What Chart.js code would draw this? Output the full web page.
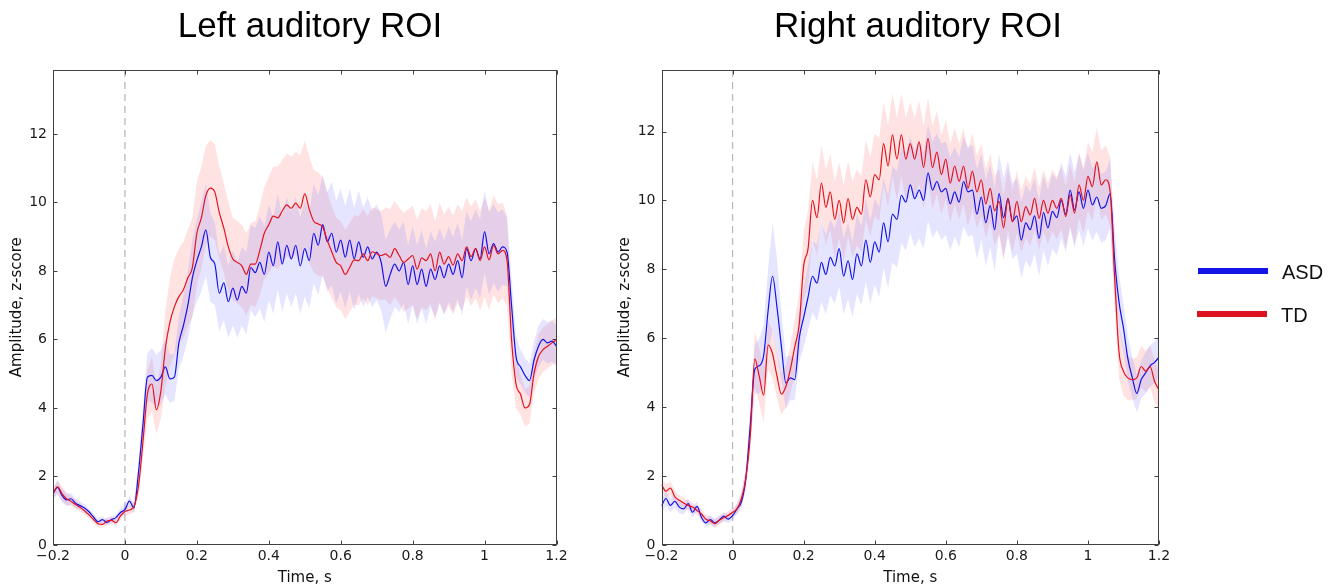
<!DOCTYPE html>
<html><head><meta charset="utf-8">
<script src="https://cdn.jsdelivr.net/npm/chart.js@4.4.1/dist/chart.umd.min.js"></script>
<style>
html,body{margin:0;padding:0;background:#fff;}
#wrap{position:relative;width:1338px;height:588px;overflow:hidden;background:#fff;}
canvas{position:absolute;top:0;}
.title{position:absolute;top:7px;font-family:"Liberation Sans",Arial,sans-serif;font-size:35px;line-height:35px;color:#000;white-space:nowrap;transform:translateX(-50%);}
.leg{position:absolute;font-family:"Liberation Sans",Arial,sans-serif;font-size:20px;line-height:20px;color:#111;}
.bar{position:absolute;height:6px;}
</style></head><body>
<div id="wrap">
<canvas id="c1" width="600" height="588" style="left:0"></canvas>
<canvas id="c2" width="600" height="588" style="left:608px"></canvas>
<div class="title" style="left:310px">Left auditory ROI</div>
<div class="title" style="left:918px">Right auditory ROI</div>
<div class="bar" style="left:1198px;top:268px;width:70px;background:#1414e6"></div>
<div class="leg" style="left:1282px;top:262px">ASD</div>
<div class="bar" style="left:1197px;top:311px;width:70px;background:#dc1420"></div>
<div class="leg" style="left:1281px;top:305px">TD</div>
</div>
<script>
const time = [
-0.2,-0.1875,-0.175,-0.1625,-0.15,-0.1375,-0.125,-0.1125,-0.1,-0.0875,
-0.075,-0.0625,-0.05,-0.0375,-0.025,-0.0125,0,0.0125,0.025,0.0375,
0.05,0.0625,0.075,0.0875,0.1,0.1125,0.125,0.1375,0.15,0.1625,
0.175,0.1875,0.2,0.2125,0.225,0.2375,0.25,0.2625,0.275,0.2875,
0.3,0.3125,0.325,0.3375,0.35,0.3625,0.375,0.3875,0.4,0.4125,
0.425,0.4375,0.45,0.4625,0.475,0.4875,0.5,0.5125,0.525,0.5375,
0.55,0.5625,0.575,0.5875,0.6,0.6125,0.625,0.6375,0.65,0.6625,
0.675,0.6875,0.7,0.7125,0.725,0.7375,0.75,0.7625,0.775,0.7875,
0.8,0.8125,0.825,0.8375,0.85,0.8625,0.875,0.8875,0.9,0.9125,
0.925,0.9375,0.95,0.9625,0.975,0.9875,1,1.0125,1.025,1.0375,
1.05,1.0625,1.075,1.0875,1.1,1.1125,1.125,1.1375,1.15,1.1625,
1.175,1.1875,1.2];

const xTicks = [-0.2,0,0.2,0.4,0.6,0.8,1,1.2];
const yTicks = [0,2,4,6,8,10,12];

const leftASD = [
1.5,1.68,1.45,1.32,1.35,1.22,1.15,1.08,0.97,0.82,
0.68,0.74,0.66,0.74,0.8,0.95,1.03,1.28,1.08,2.1,
3.5,4.9,4.95,4.8,4.9,5.2,4.85,4.9,5.9,6.4,
7.0,7.8,8.3,8.7,9.2,8.4,8.2,7.35,7.65,7.1,
7.5,7.15,7.55,7.35,8.1,7.95,8.25,7.9,8.55,8.15,
8.85,8.2,8.75,8.35,8.75,8.15,8.65,8.3,9.1,8.75,
9.35,8.85,9.1,8.55,8.9,8.4,8.9,8.35,8.85,8.4,
8.7,8.35,8.55,8.25,7.55,7.9,8.2,8.0,8.25,7.6,
8.15,7.6,8.05,7.55,8.05,7.75,8.15,7.8,8.2,7.9,
8.3,7.8,8.65,8.3,8.65,8.35,9.15,8.5,8.8,8.55,
8.7,8.55,7.0,5.5,5.2,4.95,4.8,5.4,5.8,6.0,
5.9,5.95,5.8];
const leftASDerr = [
0.15,0.2,0.2,0.18,0.16,0.14,0.12,0.1,0.1,0.1,
0.1,0.1,0.1,0.1,0.1,0.12,0.15,0.15,0.15,0.3,
0.5,0.7,0.8,0.75,0.8,0.8,0.7,0.7,0.75,0.9,
1.0,1.1,1.2,1.3,1.35,1.3,1.2,1.1,1.1,1.05,
1.1,1.1,1.15,1.2,1.25,1.3,1.35,1.4,1.4,1.4,
1.4,1.4,1.4,1.4,1.4,1.4,1.4,1.4,1.45,1.45,
1.45,1.45,1.5,1.5,1.5,1.5,1.5,1.5,1.5,1.45,
1.45,1.4,1.4,1.4,1.35,1.3,1.25,1.2,1.2,1.15,
1.15,1.15,1.15,1.1,1.1,1.1,1.1,1.1,1.1,1.1,
1.1,1.1,1.1,1.15,1.15,1.15,1.2,1.2,1.15,1.15,
1.1,1.0,0.8,0.6,0.5,0.5,0.5,0.55,0.6,0.6,
0.6,0.6,0.6];
const leftTD = [
1.5,1.7,1.5,1.35,1.28,1.18,1.1,1.0,0.88,0.75,
0.62,0.6,0.7,0.72,0.65,0.85,0.98,1.02,1.12,1.7,
3.0,4.4,4.7,3.95,4.5,5.75,6.5,6.95,7.25,7.45,
7.8,8.1,9.1,9.55,10.2,10.42,10.3,9.7,9.25,8.7,
8.35,8.25,8.15,7.9,8.2,8.2,8.6,9.1,9.35,9.6,
9.55,9.75,9.93,9.83,9.98,9.83,10.25,9.8,9.45,9.37,
9.28,8.9,8.56,8.25,8.15,7.9,8.1,8.32,8.3,8.5,
8.3,8.56,8.5,8.45,8.5,8.4,8.65,8.45,8.25,8.35,
8.45,8.05,8.38,8.3,8.5,8.0,8.55,8.2,8.42,8.17,
8.5,8.3,8.7,8.42,8.65,8.3,8.7,8.32,8.75,8.5,
8.6,8.3,6.0,4.7,4.4,4.0,4.1,5.0,5.5,5.7,
5.8,5.9,6.0];
const leftTDerr = [
0.15,0.2,0.2,0.18,0.15,0.14,0.12,0.12,0.1,0.1,
0.1,0.1,0.1,0.1,0.1,0.12,0.12,0.12,0.15,0.3,
0.5,0.7,0.8,0.7,0.8,1.1,1.3,1.4,1.4,1.4,
1.4,1.45,1.5,1.5,1.45,1.4,1.4,1.35,1.3,1.3,
1.2,1.2,1.2,1.2,1.2,1.25,1.3,1.35,1.4,1.45,
1.5,1.5,1.5,1.5,1.5,1.55,1.55,1.55,1.5,1.5,
1.45,1.4,1.35,1.3,1.3,1.3,1.3,1.3,1.3,1.3,
1.3,1.3,1.3,1.3,1.35,1.4,1.4,1.4,1.45,1.45,
1.45,1.45,1.45,1.45,1.45,1.45,1.45,1.45,1.45,1.45,
1.45,1.45,1.45,1.45,1.45,1.45,1.45,1.45,1.45,1.45,
1.4,1.3,1.0,0.7,0.6,0.55,0.55,0.6,0.65,0.65,
0.65,0.65,0.65];

const rightASD = [
1.13,1.35,1.15,1.27,1.1,1.05,1.2,0.95,1.12,0.8,
0.64,0.74,0.64,0.72,0.84,0.75,0.85,1.05,1.25,1.95,
3.5,5.1,5.2,5.5,6.8,7.8,6.9,5.75,4.7,4.85,
4.8,6.0,6.6,7.2,7.8,7.6,8.2,7.85,8.35,8.1,
8.6,7.8,8.25,7.7,8.45,8.1,8.85,8.2,8.8,8.5,
9.35,8.8,9.6,9.45,10.15,9.95,10.45,10.05,10.3,10.0,
10.8,10.3,10.55,10.25,10.35,9.9,10.25,9.95,10.55,10.25,
10.3,9.6,10.1,9.35,9.85,9.15,10.2,9.5,10.05,9.4,
9.55,8.85,9.35,9.15,9.55,8.9,9.65,9.2,9.68,9.5,
10.0,9.6,10.3,9.72,10.25,9.77,10.3,9.87,10.1,9.77,
9.85,10.2,8.3,7.05,6.3,5.4,4.85,4.4,4.8,5.0,
5.2,5.3,5.45];
const rightASDerr = [
0.2,0.2,0.2,0.18,0.18,0.16,0.15,0.15,0.15,0.12,
0.12,0.12,0.12,0.12,0.12,0.12,0.12,0.15,0.2,0.3,
0.5,0.7,0.8,0.9,1.2,1.55,1.4,1.0,0.75,0.65,
0.6,0.7,0.85,0.95,1.05,1.1,1.15,1.15,1.1,1.1,
1.1,1.1,1.1,1.1,1.15,1.15,1.2,1.2,1.25,1.3,
1.3,1.35,1.4,1.4,1.4,1.4,1.4,1.4,1.4,1.4,
1.4,1.4,1.4,1.4,1.35,1.35,1.3,1.3,1.3,1.3,
1.3,1.3,1.25,1.25,1.2,1.2,1.15,1.15,1.1,1.1,
1.1,1.1,1.1,1.1,1.1,1.1,1.1,1.1,1.1,1.1,
1.1,1.1,1.1,1.1,1.1,1.1,1.1,1.05,1.0,1.0,
1.0,1.0,0.9,0.8,0.7,0.65,0.6,0.55,0.55,0.6,
0.6,0.6,0.6];
const rightTD = [
1.75,1.56,1.65,1.4,1.3,1.22,1.15,1.1,1.0,0.9,
0.75,0.7,0.62,0.72,0.79,0.86,0.95,1.05,1.35,1.95,
3.2,5.4,4.9,4.35,5.8,5.55,4.9,4.38,4.6,5.1,
5.75,6.4,8.1,8.6,10.0,9.5,10.5,9.8,10.25,9.45,
10.0,9.35,10.05,9.45,9.8,9.6,10.6,10.1,10.75,10.6,
11.65,11.0,11.9,11.2,11.9,11.2,11.65,11.2,11.7,10.95,
11.8,10.95,11.4,10.75,11.2,10.5,11.0,10.55,11.0,10.35,
10.85,10.25,10.6,9.9,10.35,9.7,9.97,9.2,10.06,9.38,
9.97,9.38,9.82,9.58,10.06,9.48,10.0,9.63,10.0,9.77,
10.06,9.53,10.16,9.63,10.45,10.0,10.7,10.4,11.12,10.45,
10.6,10.26,7.8,5.6,5.04,4.85,4.8,4.85,5.18,5.04,
5.18,4.75,4.5];
const rightTDerr = [
0.2,0.2,0.2,0.18,0.15,0.15,0.15,0.12,0.12,0.12,
0.12,0.12,0.12,0.12,0.12,0.12,0.12,0.15,0.2,0.3,
0.5,0.8,0.8,0.8,0.7,0.7,0.65,0.6,0.6,0.7,
0.8,0.9,1.0,1.1,1.1,1.1,1.1,1.1,1.1,1.1,
1.1,1.1,1.1,1.1,1.1,1.1,1.15,1.15,1.2,1.2,
1.2,1.2,1.2,1.2,1.2,1.2,1.2,1.2,1.2,1.2,
1.2,1.2,1.2,1.15,1.15,1.15,1.1,1.1,1.1,1.1,
1.1,1.05,1.05,1.0,1.0,1.0,0.95,0.95,0.9,0.9,
0.9,0.9,0.9,0.9,0.9,0.9,0.9,0.9,0.9,0.9,
0.9,0.9,0.9,0.9,0.95,0.95,1.0,1.0,1.0,1.0,
1.0,1.0,0.9,0.75,0.7,0.65,0.6,0.6,0.6,0.6,
0.6,0.6,0.6];

Chart.defaults.font.family = '"DejaVu Sans", sans-serif';
Chart.defaults.color = '#1a1a1a';

const BLUE = '#1212ec';
const RED = '#e5121c';
const BLUE_BAND = 'rgba(80,80,255,0.15)';
const RED_BAND = 'rgba(255,80,80,0.16)';

const frame = {
  id: 'frame',
  afterDatasetsDraw(chart) {
    const {ctx, chartArea: a, scales: {x, y}} = chart;
    ctx.save();
    ctx.strokeStyle = '#404040';
    ctx.lineWidth = 1;
    const L = Math.round(a.left) + 0.5, R = Math.round(a.right) - 0.5;
    const T = Math.round(a.top) + 0.5, B = Math.round(a.bottom) - 0.5;
    ctx.strokeRect(L, T, R - L, B - T);
    ctx.beginPath();
    xTicks.forEach(v => {
      const p = Math.round(x.getPixelForValue(v)) + 0.5;
      ctx.moveTo(p, B); ctx.lineTo(p, B - 4);
      ctx.moveTo(p, T); ctx.lineTo(p, T + 4);
    });
    yTicks.forEach(v => {
      const p = Math.round(y.getPixelForValue(v)) + 0.5;
      ctx.moveTo(L, p); ctx.lineTo(L + 4, p);
      ctx.moveTo(R, p); ctx.lineTo(R - 4, p);
    });
    ctx.stroke();
    ctx.restore();
  }
};

function fmtX(v) {
  const r = Math.round(v * 10) / 10;
  return r < 0 ? '\u2212' + Math.abs(r) : String(r);
}

function pts(vals, errs, sign) {
  return time.map((t, i) => ({x: t, y: vals[i] + sign * (errs ? errs[i] : 0)}));
}

function makeChart(id, yMax, asd, asdErr, td, tdErr, yW, padRight) {
  const band = {borderColor: 'transparent', borderWidth: 1, pointRadius: 0, tension: 0};
  const line = {borderWidth: 1.2, pointRadius: 0, fill: false, cubicInterpolationMode: 'monotone'};
  return new Chart(document.getElementById(id), {
    type: 'line',
    data: {
      datasets: [
        {label: 'zero', data: [{x: 0, y: 0}, {x: 0, y: yMax}], borderColor: '#b9b9b9', borderWidth: 1.3, borderDash: [7, 5], pointRadius: 0, fill: false, order: 20},
        Object.assign({label: 'TD low', data: pts(td, tdErr, -1), fill: false, order: 12}, band),
        Object.assign({label: 'TD high', data: pts(td, tdErr, 1), fill: '-1', backgroundColor: RED_BAND, order: 11}, band),
        Object.assign({label: 'ASD low', data: pts(asd, asdErr, -1), fill: false, order: 10}, band),
        Object.assign({label: 'ASD high', data: pts(asd, asdErr, 1), fill: '-1', backgroundColor: BLUE_BAND, order: 9}, band),
        Object.assign({label: 'ASD', data: pts(asd, null, 0), borderColor: BLUE, order: 2}, line),
        Object.assign({label: 'TD', data: pts(td, null, 0), borderColor: RED, order: 1}, line)
      ]
    },
    options: {
      responsive: false,
      animation: false,
      events: [],
      layout: {padding: {top: 69.5, right: padRight, bottom: 0, left: 0}},
      plugins: {legend: {display: false}, tooltip: {enabled: false}, title: {display: false}},
      scales: {
        x: {
          type: 'linear', min: -0.2, max: 1.2,
          afterBuildTicks: s => { s.ticks = xTicks.map(v => ({value: v})); },
          afterFit: s => { s.height = 43; },
          ticks: {callback: v => fmtX(v), font: {size: 14}, color: '#1a1a1a', padding: 3, maxRotation: 0, autoSkip: false},
          grid: {display: false, drawTicks: false},
          border: {display: false},
          title: {display: true, text: 'Time, s', font: {size: 15}, color: '#111', padding: {top: 0, bottom: 1}}
        },
        y: {
          type: 'linear', min: 0, max: yMax,
          afterBuildTicks: s => { s.ticks = yTicks.map(v => ({value: v})); },
          afterFit: s => { s.width = yW; },
          ticks: {callback: v => String(v), font: {size: 14}, color: '#1a1a1a', padding: 6, autoSkip: false},
          grid: {display: false, drawTicks: false},
          border: {display: false},
          title: {display: true, text: 'Amplitude, z-score', font: {size: 15}, color: '#111', padding: {top: 8.5, bottom: 0}}
        }
      }
    },
    plugins: [frame]
  });
}

makeChart('c1', 13.88, leftASD, leftASDerr, leftTD, leftTDerr, 53, 43.5);
makeChart('c2', 13.8, rightASD, rightASDerr, rightTD, rightTDerr, 53.5, 49);
</script>
</body></html>
